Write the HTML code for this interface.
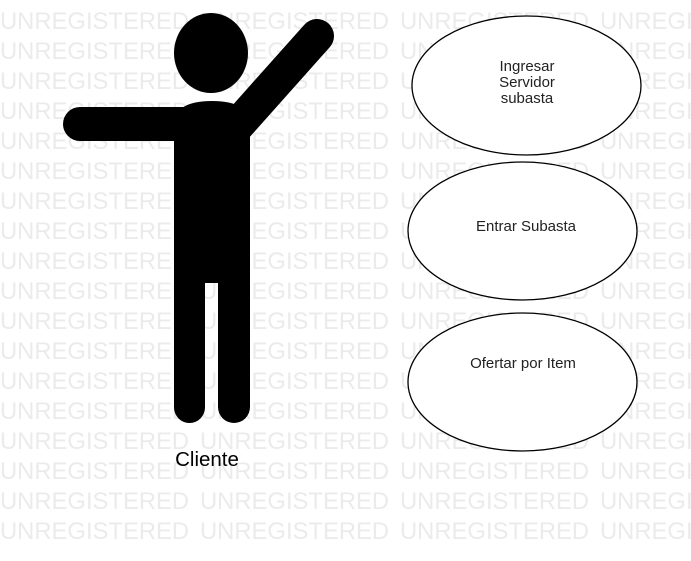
<!DOCTYPE html>
<html><head><meta charset="utf-8"><style>
html,body{margin:0;padding:0;background:#fff;width:691px;height:561px;overflow:hidden}
</style></head><body>
<svg width="691" height="561" xmlns="http://www.w3.org/2000/svg" font-family="Liberation Sans, sans-serif">
<g fill="#ebebeb" font-size="23.8">
<text x="0" y="29">UNREGISTERED</text><text x="200" y="29">UNREGISTERED</text><text x="400" y="29">UNREGISTERED</text><text x="600" y="29">UNREGISTERED</text>
<text x="0" y="59">UNREGISTERED</text><text x="200" y="59">UNREGISTERED</text><text x="400" y="59">UNREGISTERED</text><text x="600" y="59">UNREGISTERED</text>
<text x="0" y="89">UNREGISTERED</text><text x="200" y="89">UNREGISTERED</text><text x="400" y="89">UNREGISTERED</text><text x="600" y="89">UNREGISTERED</text>
<text x="0" y="119">UNREGISTERED</text><text x="200" y="119">UNREGISTERED</text><text x="400" y="119">UNREGISTERED</text><text x="600" y="119">UNREGISTERED</text>
<text x="0" y="149">UNREGISTERED</text><text x="200" y="149">UNREGISTERED</text><text x="400" y="149">UNREGISTERED</text><text x="600" y="149">UNREGISTERED</text>
<text x="0" y="179">UNREGISTERED</text><text x="200" y="179">UNREGISTERED</text><text x="400" y="179">UNREGISTERED</text><text x="600" y="179">UNREGISTERED</text>
<text x="0" y="209">UNREGISTERED</text><text x="200" y="209">UNREGISTERED</text><text x="400" y="209">UNREGISTERED</text><text x="600" y="209">UNREGISTERED</text>
<text x="0" y="239">UNREGISTERED</text><text x="200" y="239">UNREGISTERED</text><text x="400" y="239">UNREGISTERED</text><text x="600" y="239">UNREGISTERED</text>
<text x="0" y="269">UNREGISTERED</text><text x="200" y="269">UNREGISTERED</text><text x="400" y="269">UNREGISTERED</text><text x="600" y="269">UNREGISTERED</text>
<text x="0" y="299">UNREGISTERED</text><text x="200" y="299">UNREGISTERED</text><text x="400" y="299">UNREGISTERED</text><text x="600" y="299">UNREGISTERED</text>
<text x="0" y="329">UNREGISTERED</text><text x="200" y="329">UNREGISTERED</text><text x="400" y="329">UNREGISTERED</text><text x="600" y="329">UNREGISTERED</text>
<text x="0" y="359">UNREGISTERED</text><text x="200" y="359">UNREGISTERED</text><text x="400" y="359">UNREGISTERED</text><text x="600" y="359">UNREGISTERED</text>
<text x="0" y="389">UNREGISTERED</text><text x="200" y="389">UNREGISTERED</text><text x="400" y="389">UNREGISTERED</text><text x="600" y="389">UNREGISTERED</text>
<text x="0" y="419">UNREGISTERED</text><text x="200" y="419">UNREGISTERED</text><text x="400" y="419">UNREGISTERED</text><text x="600" y="419">UNREGISTERED</text>
<text x="0" y="449">UNREGISTERED</text><text x="200" y="449">UNREGISTERED</text><text x="400" y="449">UNREGISTERED</text><text x="600" y="449">UNREGISTERED</text>
<text x="0" y="479">UNREGISTERED</text><text x="200" y="479">UNREGISTERED</text><text x="400" y="479">UNREGISTERED</text><text x="600" y="479">UNREGISTERED</text>
<text x="0" y="509">UNREGISTERED</text><text x="200" y="509">UNREGISTERED</text><text x="400" y="509">UNREGISTERED</text><text x="600" y="509">UNREGISTERED</text>
<text x="0" y="539">UNREGISTERED</text><text x="200" y="539">UNREGISTERED</text><text x="400" y="539">UNREGISTERED</text><text x="600" y="539">UNREGISTERED</text>
</g>
<g fill="#000">
<ellipse cx="211" cy="53" rx="37" ry="40"/>
<path d="M174 125 Q174 101 212 101 Q250 101 250 125 L250 250 L174 250 Z"/>
<line x1="80" y1="124" x2="200" y2="124" stroke="#000" stroke-width="34" stroke-linecap="round"/>
<line x1="235" y1="128" x2="317" y2="36" stroke="#000" stroke-width="34" stroke-linecap="round"/>
<rect x="174" y="240" width="31" height="183" rx="15.5"/>
<rect x="218" y="240" width="32" height="183" rx="16"/>
<rect x="174" y="240" width="76" height="43"/>
</g>
<text x="207" y="466" font-size="20.5" text-anchor="middle" fill="#000">Cliente</text>
<g fill="#fff" stroke="#000" stroke-width="1.3">
<ellipse cx="526.5" cy="85.5" rx="114.5" ry="69.5"/>
<ellipse cx="522.5" cy="231" rx="114.5" ry="69"/>
<ellipse cx="522.5" cy="382" rx="114.5" ry="69"/>
</g>
<g font-size="15" text-anchor="middle" fill="#222">
<text x="527" y="71">Ingresar</text>
<text x="527" y="87">Servidor</text>
<text x="527" y="103">subasta</text>
<text x="526" y="231">Entrar Subasta</text>
<text x="523" y="368">Ofertar por Item</text>
</g>
</svg>
</body></html>
